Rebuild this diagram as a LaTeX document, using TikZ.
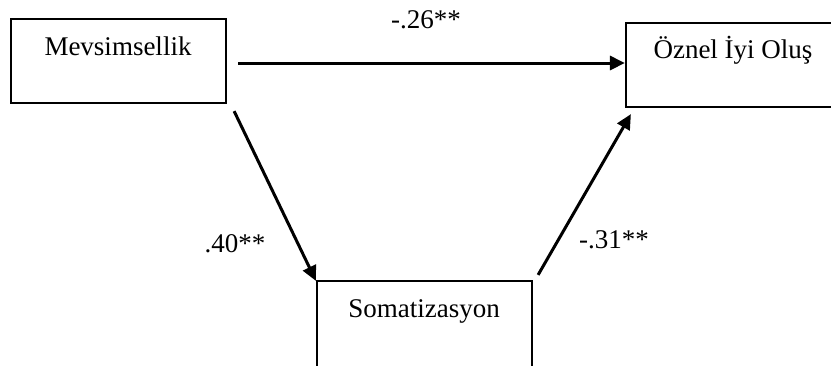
\documentclass[tikz,border=0pt]{standalone}
\usepackage{fontspec}
\setmainfont{Liberation Serif}
\usetikzlibrary{arrows.meta,calc}
\begin{document}
\begin{tikzpicture}[x=1pt,y=-1pt,
  box/.style={draw=black,line width=2.2pt,rectangle,inner sep=0pt,minimum width=215pt,minimum height=84pt},
  txt/.style={anchor=base,inner sep=0pt,font=\fontsize{27}{30}\selectfont},
  arr/.style={line width=3pt,-{Triangle[length=15pt,width=14pt]}}]
\clip (0,0) rectangle (831,365);
\fill[white] (0,0) rectangle (831,365);
\node[box] (m) at (118.5,61) {};
\node[box] (o) at (733.5,65) {};
\node[box,minimum height=110pt] (s) at (424.5,336) {};
\node[txt] (mt) at (118,55) {Mevsimsellik};
\node[txt] (ot) at (733,58) {Öznel İyi Oluş};
\node[txt] (st) at (424,317) {Somatizasyon};
\coordinate (a1) at ($(m.east)+(11,2)$);
\coordinate (a2) at ($(o.west)+(0,-2)$);
\draw[arr] (a1) -- (a2);
\coordinate (b1) at ($(m.south east)+(7,7)$);
\coordinate (b2) at ($(s.north west)+(0,1)$);
\draw[arr] (b1) -- (b2);
\coordinate (c1) at ($(s.north east)+(5,-5)$);
\coordinate (c2) at ($(o.south west)+(6,6)$);
\draw[arr] (c1) -- (c2);
\node[txt] (l1) at (426,28) {-.26**};
\node[txt] (l2) at (235,252) {.40**};
\node[txt] (l3) at (614,248) {-.31**};
\end{tikzpicture}
\end{document}
